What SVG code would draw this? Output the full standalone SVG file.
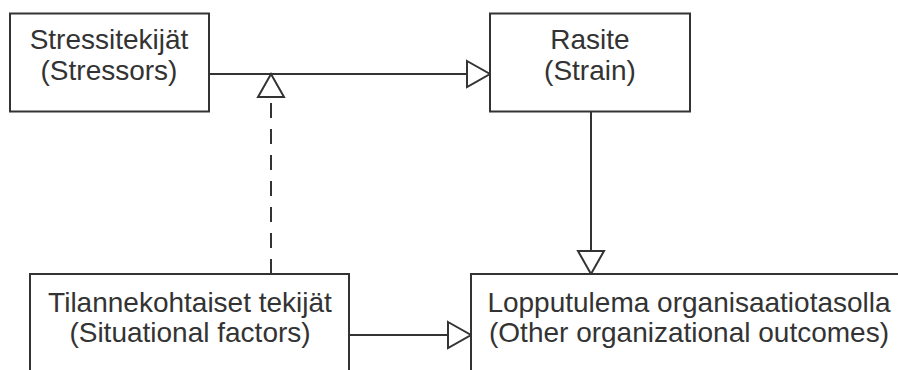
<svg xmlns="http://www.w3.org/2000/svg" width="898" height="370" viewBox="0 0 898 370">
  <style>
    .box { fill: #ffffff; stroke: #333333; stroke-width: 2; }
    .lbl { font-family: "Liberation Sans", Arial, sans-serif; font-size: 28px; fill: #333333; text-anchor: middle; }
    .edge { fill: none; stroke: #333333; stroke-width: 2; }
    .dash { stroke-dasharray: 15 11; }
  </style>
  <defs>
    <marker id="tri" markerUnits="userSpaceOnUse" markerWidth="26" markerHeight="30" refX="24" refY="14" orient="auto" overflow="visible">
      <path d="M1,1 L24,14 L1,27 Z" fill="#ffffff" stroke="#333333" stroke-width="2" stroke-linejoin="miter"/>
    </marker>
  </defs>
  <rect width="898" height="370" fill="#ffffff"/>
  <g id="edges">
    <line class="edge" x1="209" y1="74" x2="490" y2="74" marker-end="url(#tri)"/>
    <line class="edge dash" x1="271" y1="274" x2="271" y2="74" marker-end="url(#tri)"/>
    <line class="edge" x1="591" y1="111" x2="591" y2="274" marker-end="url(#tri)"/>
    <line class="edge" x1="349" y1="335" x2="471" y2="335" marker-end="url(#tri)"/>
  </g>
  <g id="stressors">
    <rect class="box" x="10" y="13.5" width="199" height="98"/>
    <text class="lbl" x="109" y="49">Stressitekijät</text>
    <text class="lbl" x="109" y="80">(Stressors)</text>
  </g>
  <g id="strain">
    <rect class="box" x="490" y="13.5" width="200" height="98"/>
    <text class="lbl" x="590" y="49">Rasite</text>
    <text class="lbl" x="590" y="80">(Strain)</text>
  </g>
  <g id="situational">
    <rect class="box" x="30" y="274" width="319" height="130"/>
    <text class="lbl" x="190" y="312">Tilannekohtaiset tekijät</text>
    <text class="lbl" x="190" y="342">(Situational factors)</text>
  </g>
  <g id="outcomes">
    <rect class="box" x="471" y="274" width="460" height="130"/>
    <text class="lbl" x="689" y="312">Lopputulema organisaatiotasolla</text>
    <text class="lbl" x="689" y="342">(Other organizational outcomes)</text>
  </g>
</svg>
